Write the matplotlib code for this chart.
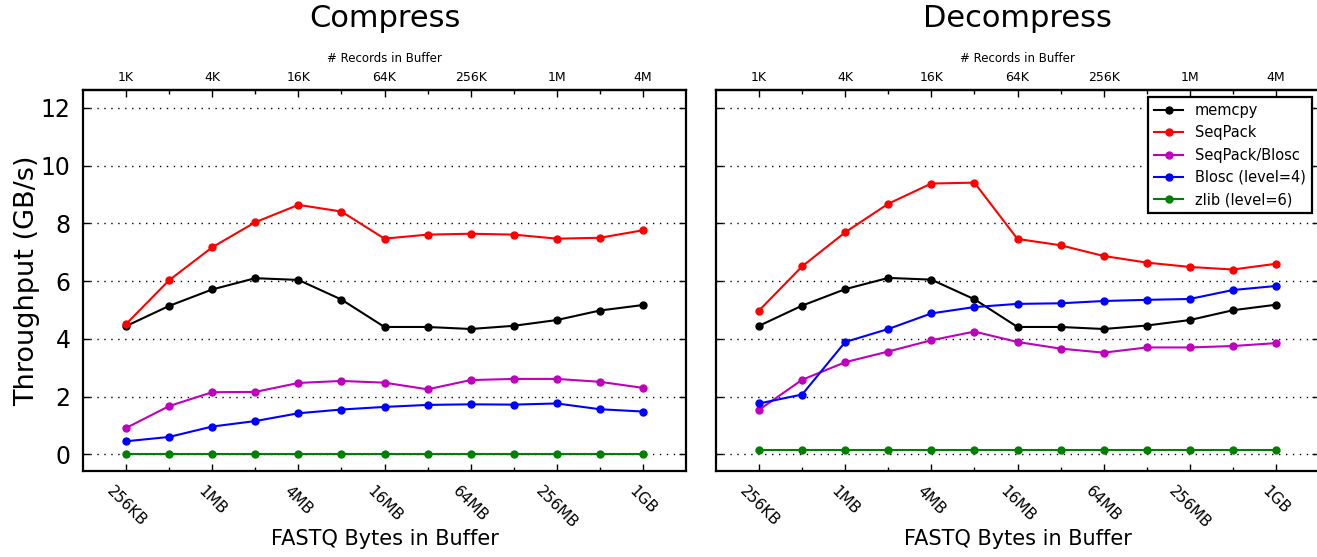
"""Compress / decompress throughput vs buffer size for memcpy, SeqPack, Blosc, zlib."""
import matplotlib
matplotlib.use("Agg")
import matplotlib.pyplot as plt
from matplotlib.ticker import FixedLocator, NullFormatter

# buffer sizes: 256KB .. 1GB, doubling
BYTES = [256 * 1024 * 2 ** i for i in range(13)]
BYTE_LABELS = ["256KB", "1MB", "4MB", "16MB", "64MB", "256MB", "1GB"]
REC_LABELS = ["1K", "4K", "16K", "64K", "256K", "1M", "4M"]
BYTES_PER_REC = 256

SERIES = ["memcpy", "SeqPack", "SeqPack/Blosc", "Blosc (level=4)", "zlib (level=6)"]
COLORS = ["k", "r", "m", "b", "g"]

comp_memcpy = [4.44, 5.14, 5.71, 6.10, 6.04, 5.36, 4.41, 4.41, 4.34, 4.45, 4.65, 4.98, 5.17]
comp_seqpack = [4.51, 6.03, 7.17, 8.04, 8.64, 8.41, 7.47, 7.61, 7.64, 7.61, 7.47, 7.50, 7.76]
comp_seqblosc = [0.91, 1.67, 2.15, 2.16, 2.47, 2.54, 2.48, 2.25, 2.57, 2.61, 2.61, 2.51, 2.30]
comp_blosc = [0.45, 0.60, 0.96, 1.15, 1.42, 1.55, 1.64, 1.71, 1.73, 1.72, 1.76, 1.56, 1.48]
comp_zlib = [0.02] * 13

dec_memcpy = [4.45, 5.15, 5.72, 6.11, 6.05, 5.37, 4.41, 4.41, 4.34, 4.46, 4.65, 4.99, 5.18]
dec_seqpack = [4.98, 6.51, 7.69, 8.68, 9.38, 9.41, 7.46, 7.24, 6.87, 6.64, 6.49, 6.40, 6.60]
dec_seqblosc = [1.54, 2.58, 3.19, 3.56, 3.95, 4.25, 3.89, 3.66, 3.52, 3.70, 3.70, 3.75, 3.85]
dec_blosc = [1.76, 2.07, 3.89, 4.34, 4.88, 5.10, 5.21, 5.23, 5.31, 5.35, 5.38, 5.69, 5.83]
dec_zlib = [0.16] * 13

PANELS = [
    ("Compress", [comp_memcpy, comp_seqpack, comp_seqblosc, comp_blosc, comp_zlib]),
    ("Decompress", [dec_memcpy, dec_seqpack, dec_seqblosc, dec_blosc, dec_zlib]),
]

fig = plt.figure(figsize=(13.17, 5.57), dpi=100)
W, H = 1317, 557
axes = [fig.add_axes([83 / W, 86 / H, 603 / W, 381 / H]),
        fig.add_axes([716 / W, 86 / H, 603 / W, 381 / H])]

major = BYTES[::2]
minor = BYTES[1::2]
for k, (ax, (title, vals)) in enumerate(zip(axes, PANELS)):
    for name, col, y in zip(SERIES, COLORS, vals):
        ax.plot(BYTES, y, "-o", color=col, lw=1.5, ms=5, mec=col, label=name)
    ax.set_xscale("log", base=2)
    ax.set_xlim(BYTES[0] / 2, BYTES[-1] * 2)
    ax.set_ylim(-0.58, 12.62)
    ax.set_yticks(range(0, 13, 2))
    ax.yaxis.grid(True, linestyle=(0, (1, 4)), color="k", lw=1)
    ax.xaxis.set_major_locator(FixedLocator(major))
    ax.xaxis.set_minor_locator(FixedLocator(minor))
    ax.xaxis.set_minor_formatter(NullFormatter())
    ax.set_xticklabels(BYTE_LABELS, rotation=-45, ha="center", va="top", fontsize=11)
    ax.tick_params(axis="x", which="both", direction="in", top=False, pad=9)
    ax.tick_params(axis="x", which="major", length=5, width=1)
    ax.tick_params(axis="x", which="minor", length=3, width=1)
    ax.tick_params(axis="y", direction="in", left=True, right=True, length=5, width=1,
                   labelsize=17, pad=9)
    for s in ax.spines.values():
        s.set_linewidth(1.6)
    ax.set_xlabel("FASTQ Bytes in Buffer", fontsize=15, labelpad=-2)
    if k == 0:
        ax.set_ylabel("Throughput (GB/s)", fontsize=19.5, labelpad=0)
    else:
        ax.set_yticklabels([])

    sec = ax.secondary_xaxis("top", functions=(lambda b: b / BYTES_PER_REC,
                                               lambda r: r * BYTES_PER_REC))
    sec.xaxis.set_major_locator(FixedLocator([b / BYTES_PER_REC for b in major]))
    sec.xaxis.set_minor_locator(FixedLocator([b / BYTES_PER_REC for b in minor]))
    sec.xaxis.set_minor_formatter(NullFormatter())
    sec.set_xticklabels(REC_LABELS, fontsize=9)
    sec.tick_params(which="both", direction="in", pad=4)
    sec.tick_params(which="major", length=5, width=1)
    sec.tick_params(which="minor", length=3, width=1)
    sec.spines["top"].set_linewidth(1.6)
    sec.set_xlabel("# Records in Buffer", fontsize=8.5, labelpad=7)
    ax.set_title(title, fontsize=22, pad=18)

leg = axes[1].legend(loc="upper right", fontsize=10.5, numpoints=1, handlelength=2,
                     fancybox=False, framealpha=1, edgecolor="k", borderaxespad=0.5)
leg.get_frame().set_linewidth(1.6)

fig.savefig("out.png", dpi=100)
